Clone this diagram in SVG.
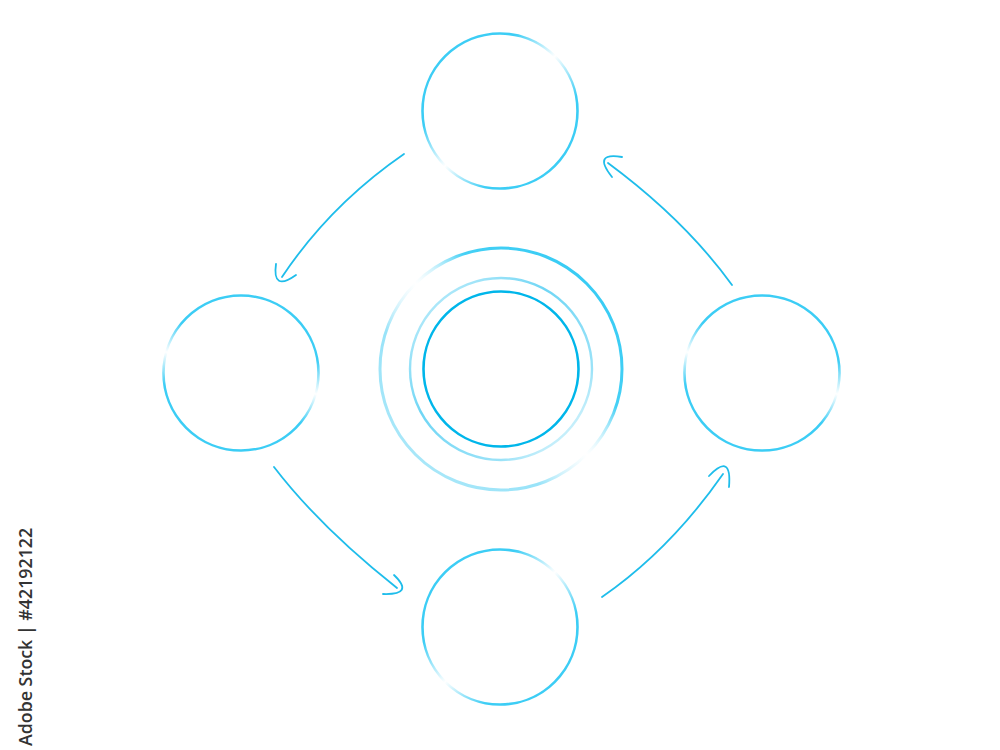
<svg xmlns="http://www.w3.org/2000/svg" width="1000" height="750" viewBox="0 0 1000 750">
<defs>
<linearGradient id="gDiag" x1="0" y1="0" x2="1" y2="1">
<stop offset="0" stop-color="#3ccdf5"/>
<stop offset="0.3" stop-color="#3ccdf5"/>
<stop offset="0.5" stop-color="#3ccdf5" stop-opacity="0"/>
<stop offset="0.7" stop-color="#3ccdf5"/>
<stop offset="1" stop-color="#3ccdf5"/>
</linearGradient>
<linearGradient id="gSide" x1="0.64" y1="0" x2="0.36" y2="1">
<stop offset="0" stop-color="#3ccdf5"/>
<stop offset="0.3" stop-color="#3ccdf5"/>
<stop offset="0.5" stop-color="#3ccdf5" stop-opacity="0"/>
<stop offset="0.7" stop-color="#3ccdf5"/>
<stop offset="1" stop-color="#3ccdf5"/>
</linearGradient>
<linearGradient id="gOuter" x1="1" y1="0" x2="0" y2="1">
<stop offset="0" stop-color="#30c9f4"/>
<stop offset="0.34" stop-color="#45d0f5"/>
<stop offset="0.5" stop-color="#bfeefb" stop-opacity="0"/>
<stop offset="0.66" stop-color="#7fdcf7" stop-opacity="0.8"/>
<stop offset="1" stop-color="#b8ebf9"/>
</linearGradient>
<linearGradient id="gMid" x1="0" y1="0" x2="1" y2="1">
<stop offset="0" stop-color="#8fdff7" stop-opacity="0.5"/>
<stop offset="0.4" stop-color="#6fd6f5"/>
<stop offset="0.75" stop-color="#8fdff7" stop-opacity="0.9"/>
<stop offset="1" stop-color="#c8f0fb" stop-opacity="0.3"/>
</linearGradient>
</defs>
<style>
.node { fill: none; stroke-width: 2.6; }
.conn path { fill: none; stroke: #1ebdeb; stroke-width: 1.8; stroke-linecap: round; }
.wm { font-family: "Open Sans", "Noto Sans", sans-serif; font-weight: 600; font-size: 17.8px; fill: #333333; }
</style>
<rect width="1000" height="750" fill="#ffffff"/>

<g id="node-top"><circle class="node" cx="500" cy="111" r="77.5" stroke="url(#gDiag)"/></g>
<g id="node-left"><circle class="node" cx="241" cy="373" r="77.5" stroke="url(#gSide)"/></g>
<g id="node-right"><circle class="node" cx="762" cy="373" r="77.5" stroke="url(#gSide)"/></g>
<g id="node-bottom"><circle class="node" cx="500" cy="627" r="77.5" stroke="url(#gDiag)"/></g>
<g id="node-center">
<circle cx="501" cy="369" r="121" fill="none" stroke="url(#gOuter)" stroke-width="3"/>
<circle cx="501" cy="369" r="91" fill="none" stroke="url(#gMid)" stroke-width="2.4"/>
<circle cx="501" cy="369" r="77.5" fill="none" stroke="#00b6ea" stroke-width="2.6"/>
</g>

<g id="connectors" class="conn">
<path d="M404,154 Q330,205 282,277"/>
<path d="M276,264 Q272,292 296,275"/>
<path d="M732,285 Q685,220 608,163"/>
<path d="M622,157 Q592,152 612,177"/>
<path d="M274,467 Q320,527 397,588"/>
<path d="M394,575 Q415,595 383,594"/>
<path d="M602,597 Q670,550 723,474"/>
<path d="M709,476 Q732,452 729,487"/>
</g>

<text class="wm" transform="translate(32,746) rotate(-90)">Adobe Stock | #42192122</text>
</svg>
